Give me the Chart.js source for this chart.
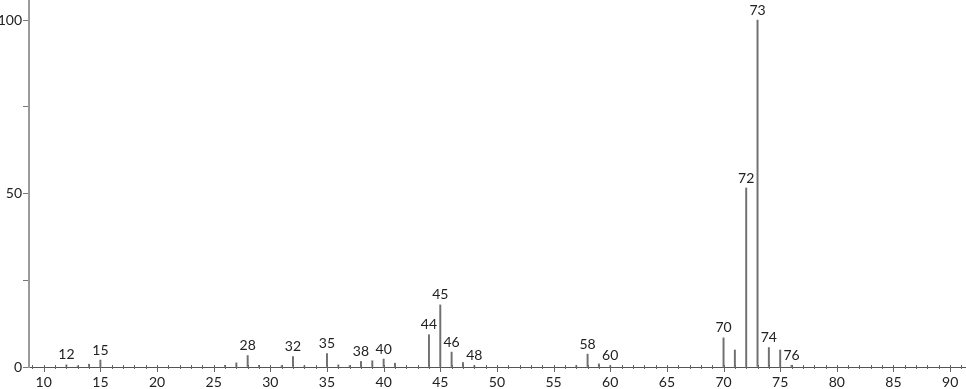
<!DOCTYPE html>
<html>
<head>
<meta charset="utf-8">
<script src="https://cdn.jsdelivr.net/npm/chart.js@4.4.1/dist/chart.umd.min.js"></script>
<style>
  html, body { margin: 0; padding: 0; background: #fff; }
  #wrap { width: 966px; height: 389px; position: relative; }
</style>
</head>
<body>
<div id="wrap"><canvas id="ms"></canvas></div>
<script>
// m/z and relative intensity
var mz        = [12, 13, 14, 15, 26, 27, 28, 29, 31, 32, 33, 35, 36, 37, 38, 39, 40, 41, 44, 45, 46, 47, 48, 57, 58, 59, 60, 70, 71, 72, 73, 74, 75, 76];
var intensity = [0.6, 0.3, 0.8, 2.0, 0.5, 1.2, 3.3, 0.5, 0.4, 3.0, 0.3, 3.9, 0.6, 0.4, 1.6, 1.8, 2.3, 1.1, 9.3, 17.9, 4.3, 1.3, 0.4, 0.4, 3.7, 0.9, 0.4, 8.4, 4.9, 51.6, 100, 5.6, 4.9, 0.5];
// peaks that carry a number above them
var labelled  = [12, 15, 28, 32, 35, 38, 40, 44, 45, 46, 48, 58, 60, 70, 72, 73, 74, 76];
var xTicks    = [10, 15, 20, 25, 30, 35, 40, 45, 50, 55, 60, 65, 70, 75, 80, 85, 90];
var yTicks    = [0, 25, 50, 75, 100];
var yLabels   = [0, 50, 100];

var FONT = 'Lato, "DejaVu Sans", sans-serif';

var points = mz.map(function (m, i) { return { x: m, y: intensity[i] }; });

// small tick marks on the x axis, one per unit
var tickPlugin = {
    id: 'minorTicks',
    afterDraw: function (chart) {
        var ctx = chart.ctx;
        var xs = chart.scales.x;
        var y0 = chart.scales.y.getPixelForValue(0);
        ctx.save();
        ctx.strokeStyle = '#666';
        ctx.lineWidth = 1;
        for (var v = 9; v <= 91; v++) {
            var px = Math.round(xs.getPixelForValue(v)) + 0.5;
            var major = v % 5 === 0;
            ctx.beginPath();
            ctx.moveTo(px, y0 - (major ? 2 : 2));
            ctx.lineTo(px, y0 + (major ? 5 : 2));
            ctx.stroke();
        }
        ctx.restore();
    }
};

// numbers over the peaks
var peakLabels = {
    id: 'peakLabels',
    afterDatasetsDraw: function (chart) {
        var ctx = chart.ctx;
        var xs = chart.scales.x, ys = chart.scales.y;
        ctx.save();
        ctx.font = '14px ' + FONT;
        ctx.fillStyle = '#222';
        ctx.textAlign = 'center';
        ctx.textBaseline = 'bottom';
        labelled.forEach(function (m) {
            var i = mz.indexOf(m);
            ctx.fillText(String(m), xs.getPixelForValue(m), ys.getPixelForValue(intensity[i]) - 3);
        });
        ctx.restore();
    }
};

new Chart(document.getElementById('ms'), {
    type: 'bar',
    data: {
        datasets: [{
            data: points,
            backgroundColor: '#707070',
            borderWidth: 0,
            barThickness: 1.3
        }]
    },
    options: {
        responsive: true,
        maintainAspectRatio: false,
        animation: false,
        layout: { padding: { top: 1, right: 0, left: 0, bottom: 0 } },
        plugins: { legend: { display: false }, tooltip: { enabled: false } },
        scales: {
            x: {
                type: 'linear',
                min: 8.7,
                max: 91.4,
                offset: false,
                afterBuildTicks: function (scale) {
                    scale.ticks = xTicks.map(function (v) { return { value: v }; });
                },
                afterFit: function (scale) {
                    scale.height = 22;
                    scale.paddingLeft = 0;
                    scale.paddingRight = 0;
                },
                grid: { display: false, drawTicks: false },
                border: { display: true, color: '#555', width: 1 },
                ticks: {
                    autoSkip: false,
                    maxRotation: 0,
                    padding: 7,
                    color: '#222',
                    font: { family: FONT, size: 14 }
                }
            },
            y: {
                min: 0,
                max: 105.5,
                afterBuildTicks: function (scale) {
                    scale.ticks = yTicks.map(function (v) { return { value: v }; });
                },
                afterFit: function (scale) {
                    scale.width = 29;
                    scale.paddingTop = 0;
                    scale.paddingBottom = 0;
                },
                grid: { drawOnChartArea: false, tickLength: 6, color: '#777' },
                border: { display: true, color: '#9a9a9a', width: 2 },
                ticks: {
                    padding: 1,
                    color: '#222',
                    font: { family: FONT, size: 14 },
                    callback: function (v) { return yLabels.indexOf(v) >= 0 ? String(v) : ''; }
                }
            }
        }
    },
    plugins: [tickPlugin, peakLabels]
});
</script>
</body>
</html>
